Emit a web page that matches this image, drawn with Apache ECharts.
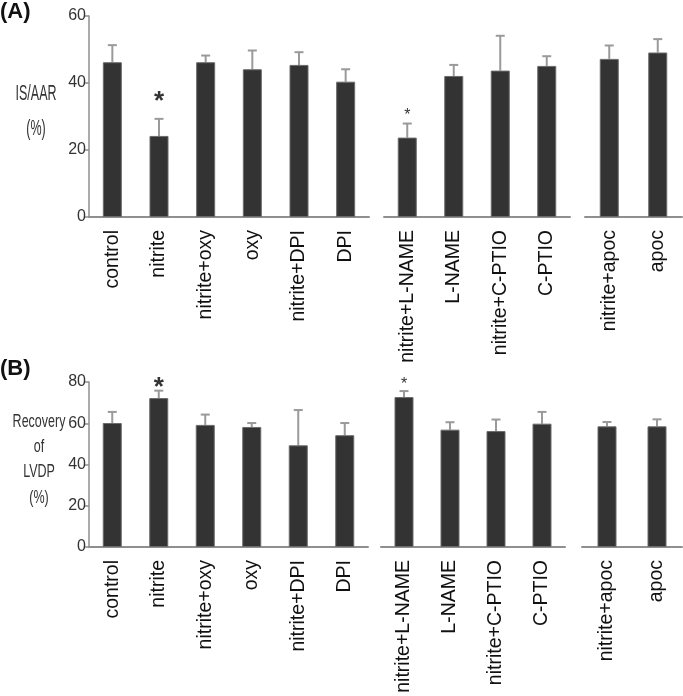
<!DOCTYPE html>
<html>
<head>
<meta charset="utf-8">
<script src="https://cdn.jsdelivr.net/npm/echarts@6/dist/echarts.min.js"></script>
<style>html,body{margin:0;padding:0;background:#fff}#c{width:683px;height:696px}</style>
</head>
<body>
<div id="c"></div>
<script>
// ---- data ----
const categories1 = ['control', 'nitrite', 'nitrite+oxy', 'oxy', 'nitrite+DPI', 'DPI'];
const categories2 = ['nitrite+L-NAME', 'L-NAME', 'nitrite+C-PTIO', 'C-PTIO'];
const categories3 = ['nitrite+apoc', 'apoc'];

const valuesA1 = [46.2, 24.2, 46.2, 44.1, 45.4, 40.4];
const errorsA1 = [5.1, 5.1, 2.0, 5.6, 3.8, 3.7];
const starsA1 = [0, 1, 0, 0, 0, 0];
const valuesA2 = [23.7, 42.1, 43.7, 45.1];
const errorsA2 = [4.2, 3.3, 10.4, 2.9];
const starsA2 = [1, 0, 0, 0];
const valuesA3 = [47.2, 49.1];
const errorsA3 = [4.0, 4.0];
const starsA3 = [0, 0];

const valuesB1 = [60.1, 72.2, 59.2, 58.2, 49.3, 54.2];
const errorsB1 = [5.4, 3.6, 5.0, 1.9, 17.1, 5.9];
const starsB1 = [0, 1, 0, 0, 0, 0];
const valuesB2 = [72.7, 56.9, 56.2, 59.8];
const errorsB2 = [2.9, 3.6, 5.6, 5.7];
const starsB2 = [1, 0, 0, 0];
const valuesB3 = [58.5, 58.5];
const errorsB3 = [2.1, 3.4];
const starsB3 = [0, 0];

const ticksA = [0, 20, 40, 60];
const ticksB = [0, 20, 40, 60, 80];
const titleA = 'IS/AAR\n(%)';
const titleB = 'Recovery\nof\nLVDP\n(%)';

// ---- layout / style ----
const FONT = '"Liberation Sans", Arial, Helvetica, sans-serif';
const AXIS_COLOR = '#8f8f8f';
const BAR_COLOR = '#333333';

const panels = [
  {cats: categories1, vals: valuesA1, errs: errorsA1, stars: starsA1, ticks: ticksA, left: 89, width: 280, top: 16, height: 201, showY: true, bigStar: true, starGap: 4},
  {cats: categories2, vals: valuesA2, errs: errorsA2, stars: starsA2, ticks: ticksA, left: 384, width: 186, top: 16, height: 201, showY: false, bigStar: false, starGap: 0},
  {cats: categories3, vals: valuesA3, errs: errorsA3, stars: starsA3, ticks: ticksA, left: 585, width: 97, top: 16, height: 201, showY: false, bigStar: false, starGap: 0},
  {cats: categories1, vals: valuesB1, errs: errorsB1, stars: starsB1, ticks: ticksB, left: 89, width: 279, top: 382, height: 165, showY: true, bigStar: true, starGap: -10},
  {cats: categories2, vals: valuesB2, errs: errorsB2, stars: starsB2, ticks: ticksB, left: 381, width: 184, top: 382, height: 165, showY: false, bigStar: false, starGap: -2},
  {cats: categories3, vals: valuesB3, errs: errorsB3, stars: starsB3, ticks: ticksB, left: 582, width: 100, top: 382, height: 165, showY: false, bigStar: false, starGap: 0}
];

const grid = [], xAxis = [], yAxis = [], series = [];
panels.forEach((p, i) => {
  grid.push({left: p.left, width: p.width, top: p.top, height: p.height, containLabel: false});
  xAxis.push({
    type: 'category', gridIndex: i, data: p.cats,
    axisLine: {show: true, lineStyle: {color: AXIS_COLOR, width: 2}},
    axisTick: {show: false},
    axisLabel: {rotate: 90, margin: 13, interval: 0, color: '#111', fontFamily: FONT, fontSize: 19.5}
  });
  const tmax = p.ticks[p.ticks.length - 1];
  yAxis.push({
    type: 'value', gridIndex: i, min: p.ticks[0], max: tmax, interval: p.ticks[1] - p.ticks[0],
    show: p.showY,
    splitLine: {show: false},
    axisLine: {show: true, lineStyle: {color: AXIS_COLOR, width: 1.5}},
    axisTick: {show: true, length: 4, lineStyle: {color: AXIS_COLOR, width: 1.5}},
    axisLabel: {margin: 3, color: '#333', fontFamily: FONT, fontSize: 16}
  });
  series.push({
    type: 'bar', xAxisIndex: i, yAxisIndex: i, data: p.vals, barWidth: 19,
    itemStyle: {color: BAR_COLOR, borderColor: '#6a6a6a', borderWidth: 1},
    silent: true, animation: false
  });
  const big = p.bigStar, gap = p.starGap;
  series.push({
    type: 'custom', xAxisIndex: i, yAxisIndex: i, animation: false, silent: true, z: 1,
    data: p.vals.map((v, k) => [k, v, p.errs[k], p.stars[k]]),
    renderItem: function (params, api) {
      const base = api.coord([api.value(0), api.value(1)]);
      const top = api.coord([api.value(0), api.value(1) + api.value(2)]);
      const children = [
        {type: 'line', shape: {x1: base[0], y1: base[1], x2: top[0], y2: top[1]}, style: {stroke: '#9a9a9a', lineWidth: 2}},
        {type: 'line', shape: {x1: top[0] - 4.5, y1: top[1], x2: top[0] + 4.5, y2: top[1]}, style: {stroke: '#9a9a9a', lineWidth: 2}}
      ];
      if (api.value(3)) {
        children.push({
          type: 'text',
          style: {
            text: '*', x: top[0], y: top[1] - gap,
            textAlign: 'center', textVerticalAlign: 'bottom',
            fill: '#333', fontFamily: FONT, fontWeight: big ? 'bold' : 'normal', fontSize: big ? 26 : 16
          }
        });
      }
      return {type: 'group', children: children};
    }
  });
});

const chart = echarts.init(document.getElementById('c'), null, {renderer: 'canvas'});
chart.setOption({
  backgroundColor: '#ffffff',
  animation: false,
  grid: grid, xAxis: xAxis, yAxis: yAxis, series: series,
  graphic: [
    {type: 'text', left: 0, top: 1, style: {text: '(A)', fontFamily: FONT, fontWeight: 'bold', fontSize: 22, fill: '#111'}},
    {type: 'text', left: 0, top: 358, style: {text: '(B)', fontFamily: FONT, fontWeight: 'bold', fontSize: 22, fill: '#111'}},
    {type: 'text', x: 36, y: 112, scaleY: 1.7, style: {text: titleA, textAlign: 'center', textVerticalAlign: 'middle', lineHeight: 20.5, fontFamily: FONT, fontSize: 12.5, fill: '#333'}},
    {type: 'text', x: 39, y: 460, scaleY: 1.4, style: {text: titleB, textAlign: 'center', textVerticalAlign: 'middle', lineHeight: 18, fontFamily: FONT, fontSize: 12.5, fill: '#333'}}
  ]
});
</script>
</body>
</html>
